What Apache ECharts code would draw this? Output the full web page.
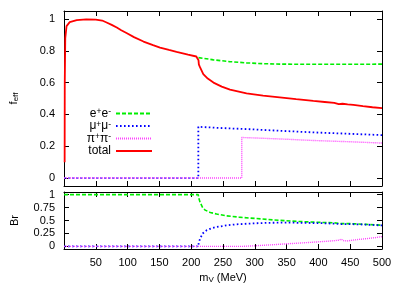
<!DOCTYPE html>
<html>
<head>
<meta charset="utf-8">
<script src="https://cdn.jsdelivr.net/npm/echarts@6/dist/echarts.min.js"></script>
<style>
html,body{margin:0;padding:0;background:#fff;}
#chart{width:415px;height:295px;}
</style>
</head>
<body>
<div id="chart"></div>
<script>
// ---- data ----
const legendNames = ['e+e-', 'μ+μ-', 'π+π-', 'total'];

const mTotal = [1.02, 1.2, 2, 4, 9, 20, 35, 50, 60, 67, 75, 83, 90, 99, 110, 125, 140, 151, 165, 177, 195, 208, 211, 211.5, 212, 214, 219, 226, 235, 248, 261, 287, 313, 339, 365, 392, 410, 425, 432, 435, 438, 441, 446, 455, 470, 485, 500];
const fTotal = [0.10, 0.60, 0.88, 0.955, 0.98, 0.992, 0.997, 0.996, 0.99, 0.978, 0.963, 0.946, 0.929, 0.91, 0.886, 0.858, 0.835, 0.82, 0.805, 0.793, 0.776, 0.764, 0.758, 0.74, 0.715, 0.695, 0.653, 0.625, 0.60, 0.575, 0.556, 0.532, 0.518, 0.507, 0.496, 0.485, 0.478, 0.472, 0.464, 0.458, 0.467, 0.469, 0.463, 0.46, 0.452, 0.445, 0.44];

const mEE = [211.5, 220, 235, 260, 287, 313, 339, 400, 450, 500];
const fEE = [0.757, 0.752, 0.743, 0.732, 0.724, 0.719, 0.716, 0.715, 0.715, 0.716];

const mMuMu = [0, 211.2, 211.2, 230, 260, 287, 340, 392, 450, 500];
const fMuMu = [0, 0, 0.322, 0.318, 0.312, 0.308, 0.297, 0.287, 0.278, 0.27];

const mPiPi = [0, 279.5, 279.5, 300, 350, 392, 450, 500];
const fPiPi = [0, 0, 0.255, 0.252, 0.244, 0.236, 0.228, 0.22];

const mBrEE = [0, 211, 212, 214, 218, 222, 230, 240, 255, 275, 300, 330, 371, 400, 425, 437, 450, 475, 500];
const brEE = [1, 1, 0.93, 0.85, 0.75, 0.70, 0.655, 0.625, 0.59, 0.565, 0.54, 0.51, 0.48, 0.465, 0.455, 0.44, 0.44, 0.425, 0.41];

const mBrMuMu = [0, 211, 212, 214, 218, 224, 232, 240, 255, 270, 290, 320, 350, 371, 400, 425, 437, 450, 475, 500];
const brMuMu = [0, 0, 0.08, 0.15, 0.25, 0.31, 0.35, 0.375, 0.405, 0.425, 0.44, 0.455, 0.46, 0.455, 0.45, 0.44, 0.43, 0.43, 0.42, 0.405];

const mBrPiPi = [0, 280, 300, 325, 350, 371, 396, 420, 432, 436, 440, 445, 460, 476, 490, 500];
const brPiPi = [0, 0, 0.012, 0.03, 0.05, 0.065, 0.085, 0.105, 0.12, 0.14, 0.11, 0.105, 0.13, 0.15, 0.17, 0.19];

const mTicks = [0, 50, 100, 150, 200, 250, 300, 350, 400, 450, 500];
const mLabels = [50, 100, 150, 200, 250, 300, 350, 400, 450, 500];
const fTicks = [0, 0.2, 0.4, 0.6, 0.8, 1];
const brTicks = [0, 0.25, 0.5, 0.75, 1];

// ---- helpers ----
const zip = (xs, ys) => xs.map((x, i) => [x, ys[i]]);
const FONT = 'Liberation Sans, Arial, sans-serif';
const black = '#000';

const richLegend = {
  n: {fontSize: 12, fontFamily: FONT, color: black, lineHeight: 12, verticalAlign: 'bottom', padding: [3, 0, 0, 0]},
  s: {fontSize: 8.5, fontFamily: FONT, color: black, lineHeight: 8, verticalAlign: 'top'}
};
const legendFmt = {
  'e+e-': '{n|e}{s|+}{n|e}{s|-}',
  'μ+μ-': '{n|μ}{s|+}{n|μ}{s|-}',
  'π+π-': '{n|π}{s|+}{n|π}{s|-}',
  'total': '{n|total}'
};

const styles = {
  'e+e-': {color: '#00ee00', width: 1.6, type: [4, 2]},
  'μ+μ-': {color: '#0000ff', width: 1.8, type: [1.6, 2.4]},
  'π+π-': {color: '#ff44ff', width: 1.4, type: [1, 1]},
  'total': {color: '#ff0000', width: 1.8, type: 'solid'}
};

function mkSeries(name, data, xi, yi, z) {
  const s = styles[name];
  return {
    name, type: 'line', data, xAxisIndex: xi, yAxisIndex: yi,
    symbol: 'none', showSymbol: false, z,
    lineStyle: {color: s.color, width: s.width, type: s.type},
    itemStyle: {color: s.color},
    emphasis: {disabled: true}
  };
}

function xAxisPair(gi) {
  const base = {
    type: 'value', gridIndex: gi, min: 0, max: 500,
    splitLine: {show: false},
    axisLine: {show: true, onZero: false, lineStyle: {color: black, width: 1}},
    axisTick: {show: true, inside: true, length: 5, customValues: mTicks, lineStyle: {color: black}}
  };
  const bottom = Object.assign({}, base, {
    position: 'bottom',
    axisLabel: gi === 1
      ? {show: true, customValues: mLabels, margin: 8, fontSize: 11, fontFamily: FONT, color: black}
      : {show: false},
  });
  if (gi === 1) {
    bottom.name = 'm{sub|V} (MeV)';
    bottom.nameLocation = 'middle';
    bottom.nameGap = 23;
    bottom.nameTextStyle = {
      fontSize: 11, fontFamily: FONT, color: black,
      rich: {sub: {fontSize: 8, fontFamily: FONT, color: black, verticalAlign: 'bottom', padding: [4, 0, 0, 0]}}
    };
  }
  const top = Object.assign({}, base, {position: 'top', axisLabel: {show: false}});
  return [bottom, top];
}

function yAxisPair(gi, ticks, nameStr, rich) {
  const base = {
    type: 'value', gridIndex: gi, min: -0.05, max: 1.05,
    splitLine: {show: false},
    axisLine: {show: true, onZero: false, lineStyle: {color: black, width: 1}},
    axisTick: {show: true, inside: true, length: 5, customValues: ticks, lineStyle: {color: black}}
  };
  const left = Object.assign({}, base, {
    position: 'left',
    axisLabel: {show: true, customValues: ticks, margin: 9, fontSize: 11, fontFamily: FONT, color: black},
    name: nameStr, nameLocation: 'middle', nameGap: 44, nameRotate: 90,
    nameTextStyle: {fontSize: 11, fontFamily: FONT, color: black, rich}
  });
  const right = Object.assign({}, base, {position: 'right', axisLabel: {show: false}});
  return [left, right];
}

const chart = echarts.init(document.getElementById('chart'), null, {renderer: 'canvas'});

const option = {
  animation: false,
  backgroundColor: '#fff',
  textStyle: {fontFamily: FONT},
  grid: [
    {left: 64, top: 11, width: 318, height: 175, containLabel: false},
    {left: 64, top: 192, width: 318, height: 57, containLabel: false}
  ],
  xAxis: [...xAxisPair(0), ...xAxisPair(1)],
  yAxis: [
    ...yAxisPair(0, fTicks, 'f{sub|eff}', {sub: {fontSize: 8, fontFamily: FONT, color: black, verticalAlign: 'bottom', padding: [4, 0, 0, 0]}}),
    ...yAxisPair(1, brTicks, 'Br', {})
  ],
  legend: {
    data: legendNames,
    orient: 'vertical',
    align: 'right',
    right: 257,
    top: 99.5,
    itemWidth: 36,
    itemHeight: 10,
    itemGap: -2.5,
    selectedMode: false,
    itemStyle: {opacity: 0},
    formatter: (name) => legendFmt[name],
    textStyle: {fontSize: 12, fontFamily: FONT, color: black, rich: richLegend}
  },
  series: [
    mkSeries('e+e-', zip(mEE, fEE), 0, 0, 2),
    mkSeries('μ+μ-', zip(mMuMu, fMuMu), 0, 0, 3),
    mkSeries('π+π-', zip(mPiPi, fPiPi), 0, 0, 4),
    mkSeries('total', zip(mTotal, fTotal), 0, 0, 5),
    mkSeries('e+e-', zip(mBrEE, brEE), 2, 2, 2),
    mkSeries('μ+μ-', zip(mBrMuMu, brMuMu), 2, 2, 3),
    mkSeries('π+π-', zip(mBrPiPi, brPiPi), 2, 2, 4)
  ]
};
chart.setOption(option);
</script>
</body>
</html>
